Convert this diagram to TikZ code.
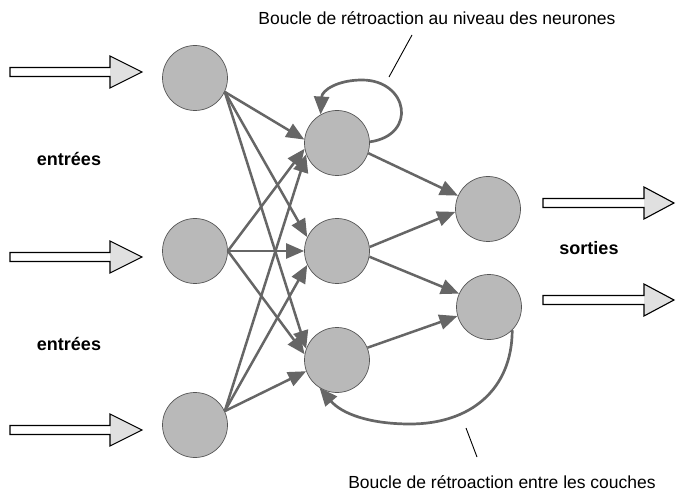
\documentclass[tikz,border=0pt]{standalone}
\usepackage{fontspec}
\setmainfont{Liberation Sans}
\usetikzlibrary{arrows.meta}
\definecolor{nodefill}{HTML}{B9B9B9}
\definecolor{nodeline}{HTML}{555555}
\definecolor{conncol}{HTML}{666666}
\definecolor{headfill}{HTML}{E0E0E0}
\newcommand{\blockarr}[4]{% x0, y, tip x, head length
  \fill[white] (#1,#2-4.5) -- ({#3-#4},#2-4.5) -- ({#3-#4},#2-16) -- (#3,#2) -- ({#3-#4},#2+16) -- ({#3-#4},#2+4.5) -- (#1,#2+4.5) -- cycle;
  \fill[headfill] ({#3-#4},#2-16) -- (#3,#2) -- ({#3-#4},#2+16) -- cycle;
  \draw[black, line width=1.1pt, line join=miter] (#1,#2-4.5) -- ({#3-#4},#2-4.5) -- ({#3-#4},#2-16) -- (#3,#2) -- ({#3-#4},#2+16) -- ({#3-#4},#2+4.5) -- (#1,#2+4.5) -- cycle;
}
\tikzset{
  neuron/.style={circle, draw=nodeline, line width=0.7pt, fill=nodefill, minimum size=65pt, inner sep=0pt},
  conn/.style={draw=conncol, line width=2.5pt, -{Triangle[length=18pt, width=15pt]}},
  loopconn/.style={draw=conncol, line width=2.7pt, -{Triangle[length=18pt, width=15pt]}},
  pointer/.style={draw=black, line width=0.9pt},
  caption/.style={font=\fontsize{17.5}{20}\selectfont, inner sep=0pt},
  boldlabel/.style={font=\fontsize{18}{20}\selectfont\bfseries, inner sep=0pt}
}
\begin{document}
\begin{tikzpicture}[x=1pt, y=-1pt]
\useasboundingbox (0,0) rectangle (691,497);
% block arrows
\blockarr{10}{72}{142}{32}
\blockarr{10}{257}{142}{32}
\blockarr{10}{430}{142}{32}
\blockarr{543}{203}{674}{30}
\blockarr{543}{300}{674}{30}
% neurons
\node[neuron] (L1) at (195,78) {};
\node[neuron] (L2) at (195,251) {};
\node[neuron] (L3) at (195,425) {};
\node[neuron] (M1) at (337,143) {};
\node[neuron] (M2) at (337,251) {};
\node[neuron] (M3) at (337,360) {};
\node[neuron] (O1) at (488,209) {};
\node[neuron] (O2) at (489,307) {};
% input to hidden
\draw[conn] (L1.-25) -- (M1.174);
\draw[conn] (L1.-25) -- (M2.155);
\draw[conn] (L1.-25) -- (M3.160);
\draw[conn] (L2.0) -- (M1.190);
\draw[conn] (L2.0) -- (M2.180);
\draw[conn] (L2.0) -- (M3.170);
\draw[conn] (L3.25) -- (M1.200);
\draw[conn] (L3.25) -- (M2.205);
\draw[conn] (L3.25) -- (M3.200);
% hidden to output
\draw[conn] (M1.-18) -- (O1.156);
\draw[conn] (M2.7) -- (O1.185);
\draw[conn] (M2.-10) -- (O2.156);
\draw[conn] (M3.22) -- (O2.196);
% feedback loops
\draw[loopconn] (M1.2) .. controls (418,135) and (408,80) .. (362,80) .. controls (338,80) and (322,90) .. (M1.120);
\draw[loopconn] (O2.-45) .. controls (512,390) and (470,424) .. (410,424) .. controls (370,424) and (342,414) .. (M3.238);
% labels
\node[caption] (t1) at (437,18) {Boucle de rétroaction au niveau des neurones};
\node[caption] (t2) at (502,482) {Boucle de rétroaction entre les couches};
\node[boldlabel] (e1) at (69,159) {entrées};
\node[boldlabel] (e2) at (69,344) {entrées};
\node[boldlabel] (s1) at (589,248) {sorties};
% pointers
\coordinate (p1a) at (412,35);
\coordinate (p1b) at (389,77);
\coordinate (p2a) at (466,428);
\coordinate (p2b) at (477,457);
\draw[pointer] (p1a) -- (p1b);
\draw[pointer] (p2a) -- (p2b);
\end{tikzpicture}
\end{document}
